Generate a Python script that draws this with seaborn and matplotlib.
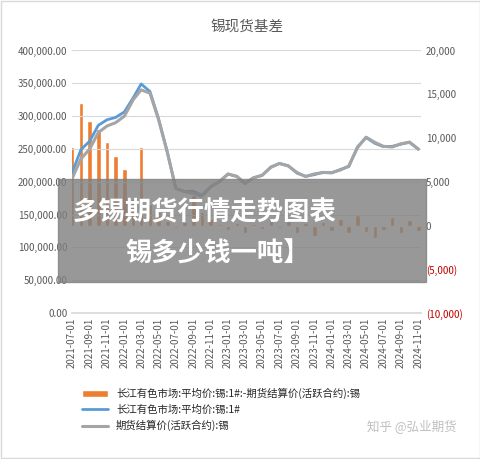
import matplotlib
matplotlib.use("Agg")
import matplotlib.pyplot as plt
import matplotlib.dates as mdates
import pandas as pd
import seaborn as sns

sns.set_theme(style="white")
plt.rcParams['font.family'] = ['Noto Sans CJK SC', 'DejaVu Sans']

months = pd.date_range("2021-07-01", "2024-11-01", freq="MS")
futures = [205, 235, 250, 275, 285, 290, 300, 325, 340, 335, 295, 245,
           190, 185, 182, 178, 192, 200, 212, 208, 198, 206, 210, 222,
           228, 224, 214, 208, 212, 214, 214, 218, 224, 252, 268, 260,
           254, 253, 258, 260, 250]
basis = [9000, 14000, 12000, 11000, 9500, 8000, 6500, 3000, 9000, 2500, 1500, 500,
         -300, 400, 3500, 1500, 800, 200, -500, 300, -800, 200, -400, 600,
         -300, 500, -900, 300, -1200, 400, -600, 800, -900, 1200, -700, -1400,
         -500, 1000, -800, 600, -600]
spot = [f + b / 1000 for f, b in zip(futures, basis)]

fig, ax = plt.subplots(figsize=(4.81, 4.59), dpi=100)
fig.subplots_adjust(left=0.15, right=0.875, top=0.89, bottom=0.318)
ax2 = ax.twinx()
ax.set_zorder(2)
ax.patch.set_visible(False)

ax2.bar(months, basis, width=16, color="#ed7d31", label="长江有色市场:平均价:锡:1#:-期货结算价(活跃合约):锡")
ax.plot(months, [s * 1000 for s in spot], color="#5b9bd5", lw=2, label="长江有色市场:平均价:锡:1#")
ax.plot(months, [f * 1000 for f in futures], color="#a5a5a5", lw=2.2, label="期货结算价(活跃合约):锡")

ax.set_ylim(0, 400000)
ax.set_yticks(range(0, 400001, 50000))
ax.set_yticklabels([f"{v:,.2f}" for v in range(0, 400001, 50000)], fontsize=7, color="#595959")
ax2.set_ylim(-10000, 20000)
ax2.set_yticks(range(-10000, 20001, 5000))
ax2.set_yticklabels([f"({-v:,})" if v < 0 else f"{v:,}" for v in range(-10000, 20001, 5000)], fontsize=7)
for t in ax2.get_yticklabels():
    t.set_color("#c00000" if t.get_text().startswith("(") else "#595959")
ax.set_xlim(pd.Timestamp("2021-07-01"), pd.Timestamp("2024-11-10"))
ax.xaxis.set_major_locator(mdates.MonthLocator(bymonth=[1, 3, 5, 7, 9, 11]))
ax.xaxis.set_major_formatter(mdates.DateFormatter("%Y-%m-%d"))
plt.setp(ax.get_xticklabels(), rotation=90, fontsize=7, color="#595959")
ax.grid(axis="y", color="#d9d9d9", lw=0.8)
for a in (ax, ax2):
    for s in a.spines.values():
        s.set_visible(False)
ax.spines["bottom"].set_visible(True)
ax.spines["bottom"].set_color("#d9d9d9")
ax.tick_params(axis="both", length=0)
ax2.tick_params(length=0)
ax.set_title("锡现货基差", fontsize=10.5, color="#595959", pad=14)

h1, l1 = ax.get_legend_handles_labels()
h2, l2 = ax2.get_legend_handles_labels()
fig.legend(h2 + h1, l2 + l1, loc="lower left", bbox_to_anchor=(0.15, 0.04), frameon=False,
           fontsize=7.5, handlelength=2.5, labelspacing=0.5)
fig.text(0.95, 0.06, "知乎 @弘业期货", ha="right", fontsize=9, color="#bfbfbf")

fig.patches.append(plt.Rectangle((0.12, 0.385), 0.765, 0.225, transform=fig.transFigure,
                                 color="#7f7f7f", alpha=0.8, zorder=10))
fig.text(0.15, 0.52, "多锡期货行情走势图表", fontsize=19, color="white", weight="bold", zorder=11)
fig.text(0.26, 0.43, "锡多少钱一吨】", fontsize=19, color="white", weight="bold", zorder=11)
fig.patches.append(plt.Rectangle((0.003, 0.003), 0.994, 0.994, transform=fig.transFigure,
                                 fill=False, ec="#d9d9d9", lw=1))
fig.savefig("out.png", dpi=100)
